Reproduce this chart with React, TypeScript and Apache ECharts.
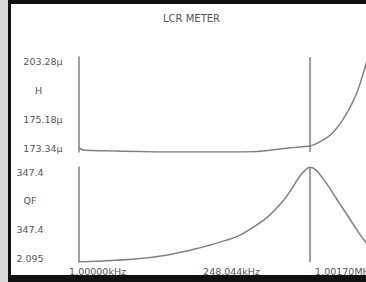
import React, { useEffect, useRef } from "react";
import * as echarts from "echarts";

// Sweep position (percent of sweep, left to right)
const sweep = [0, 2, 10, 20, 30, 40, 45, 50, 55, 60, 65, 70, 73, 76, 78, 79.7, 81.5, 83, 86, 88, 90, 92, 94, 96, 98, 100];
// Inductance (µH)
const inductance = [173.38, 172.6, 172.4, 172.2, 172.0, 172.0, 172.0, 172.0, 172.0, 172.05, 172.5, 173.1, 173.45, 173.7, 173.9, 174.1, 174.7, 175.5, 177.3, 179.2, 181.7, 184.8, 188.4, 192.9, 199.0, 206.0];
// Quality factor
const qf = [2.6, 2.9, 6.7, 13.5, 27, 49, 63, 79, 97, 128, 165, 220, 262, 312, 336, 346.5, 338, 321, 278, 245, 212, 181, 148, 116, 86, 60];

const cursorPos = 79.7;

// LCD field labels (top to bottom)
const topLabels = ["203.28\u03bc", "H", "175.18\u03bc", "173.34\u03bc"];
const bottomLabels = ["347.4", "QF", "347.4", "2.095"];
const freqLabels = ["1.00000kHz", "248.044kHz", "1.00170MHz"];
const freqLabelPos = [6.4, 52.6, 91.7];

const FONT = "DejaVu Sans";
const TXT = "#555";
const LINE = "#808080";

export default function App() {
  const ref = useRef<HTMLDivElement>(null);
  useEffect(() => {
    if (!ref.current) return;
    const chart = echarts.init(ref.current, undefined, { renderer: "svg" });
    const lData = sweep.map((s, i) => [s, inductance[i]]);
    const qData = sweep.map((s, i) => [s, qf[i]]);
    const labelStyle = { fontFamily: FONT, fontSize: 9.5, color: TXT };
    const gridBase = { outerBoundsMode: "none", containLabel: false };
    chart.setOption({
      animation: false,
      backgroundColor: "#d8d8d8",
      title: {
        text: "LCR METER",
        left: 163,
        top: 13,
        padding: 0,
        textStyle: { fontFamily: FONT, fontSize: 10, fontWeight: "normal", color: TXT },
      },
      graphic: [
        { type: "rect", z: -10, silent: true, shape: { x: 8, y: 0, width: 358, height: 282 }, style: { fill: "#111" } },
        { type: "rect", z: -9, silent: true, shape: { x: 11, y: 4, width: 355, height: 271 }, style: { fill: "#fff" } },
      ],
      grid: [
        { ...gridBase, left: 79, top: 57, width: 290, height: 95 },
        { ...gridBase, left: 79, top: 167, width: 290, height: 95 },
        { ...gridBase, left: 79, top: 61, width: 1, height: 87 },
        { ...gridBase, left: 79, top: 172, width: 1, height: 86 },
      ],
      xAxis: [
        { gridIndex: 0, type: "value", min: 0, max: 100, show: false },
        {
          gridIndex: 1,
          type: "value",
          min: 0,
          max: 100,
          axisLine: { show: false },
          axisTick: { show: false },
          splitLine: { show: false },
          axisLabel: {
            ...labelStyle,
            margin: 4,
            align: "center",
            customValues: freqLabelPos,
            formatter: (v: number) => {
              const i = freqLabelPos.findIndex((p) => Math.abs(p - v) < 1e-6);
              return i >= 0 ? freqLabels[i] : "";
            },
          },
        },
        { gridIndex: 2, type: "value", show: false },
        { gridIndex: 3, type: "value", show: false },
      ],
      yAxis: [
        {
          gridIndex: 0,
          type: "value",
          min: 172.0,
          max: 204.7,
          axisLine: { show: true, lineStyle: { color: LINE, width: 1.5 } },
          axisTick: { show: false },
          axisLabel: { show: false },
          splitLine: { show: false },
        },
        {
          gridIndex: 1,
          type: "value",
          min: 2.095,
          max: 347.4,
          axisLine: { show: true, lineStyle: { color: LINE, width: 1.5 } },
          axisTick: { show: false },
          axisLabel: { show: false },
          splitLine: { show: false },
        },
        {
          gridIndex: 2,
          type: "category",
          boundaryGap: false,
          data: topLabels.slice().reverse(),
          axisLine: { show: false },
          axisTick: { show: false },
          splitLine: { show: false },
          axisLabel: {
            ...labelStyle,
            align: "center",
            margin: 36,
            formatter: (v: string) => (v === "H" ? "{u|H}" : v),
            rich: { u: { ...labelStyle, padding: [0, 9, 0, 0] } },
          },
        },
        {
          gridIndex: 3,
          type: "category",
          boundaryGap: false,
          data: bottomLabels.slice().reverse(),
          axisLine: { show: false },
          axisTick: { show: false },
          splitLine: { show: false },
          axisLabel: { ...labelStyle, align: "center", margin: 49 },
        },
      ],
      series: [
        {
          type: "line",
          xAxisIndex: 0,
          yAxisIndex: 0,
          data: lData,
          smooth: 0.4,
          showSymbol: false,
          lineStyle: { color: LINE, width: 1.5 },
          markLine: {
            silent: true,
            symbol: ["none", "none"],
            label: { show: false },
            lineStyle: { color: LINE, width: 1.5, type: "solid" },
            data: [{ xAxis: cursorPos }],
          },
        },
        {
          type: "line",
          xAxisIndex: 1,
          yAxisIndex: 1,
          data: qData,
          smooth: 0.4,
          showSymbol: false,
          lineStyle: { color: LINE, width: 1.5 },
          markLine: {
            silent: true,
            symbol: ["none", "none"],
            label: { show: false },
            lineStyle: { color: LINE, width: 1.5, type: "solid" },
            data: [{ xAxis: cursorPos }],
          },
        },
      ],
    });
    return () => chart.dispose();
  }, []);
  return (
    <div
      ref={ref}
      style={{ position: "fixed", left: 0, top: 0, width: 366, height: 282 }}
    />
  );
}
